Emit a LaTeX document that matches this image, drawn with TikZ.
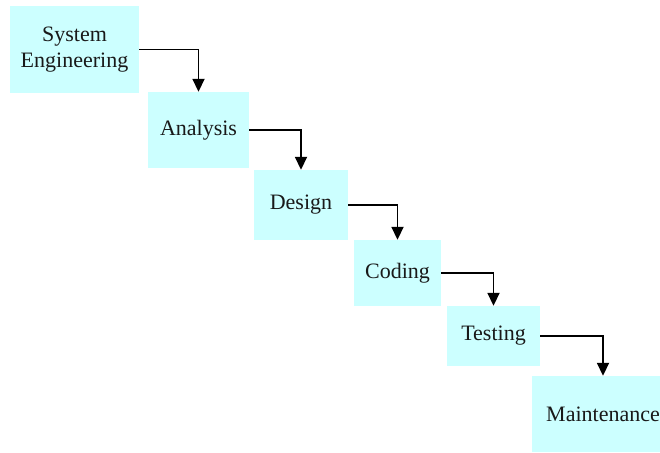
\documentclass[tikz,border=0pt]{standalone}
\usepackage{fontspec}
\setmainfont{Liberation Serif}
\usetikzlibrary{arrows.meta}
\definecolor{phasecyan}{RGB}{204,255,255}
\begin{document}
\begin{tikzpicture}[x=1pt,y=-1pt,
    phase/.style ={fill=phasecyan, inner sep=0pt, align=center, text=black!90, font=\fontsize{22}{26}\selectfont},
    flow/.style ={line width=1.8pt, -{Triangle[width=12pt,length=13pt]}}]
   \useasboundingbox (0,0) rectangle (660,452);
   \node[phase, minimum width=129pt, minimum height=87pt] (SE) at (74.5,49.5) {System\\Engineering};
   \node[phase, minimum width=101pt, minimum height=76pt] (AN) at (198.5,130) {Analysis};
   \node[phase, minimum width=94pt, minimum height=70pt] (DE) at (301,205) {Design};
   \node[phase, minimum width=87pt, minimum height=66pt] (CO) at (397.5,273) {Coding};
   \node[phase, minimum width=93pt, minimum height=60pt] (TE) at (493.5,336) {Testing};
   \node[phase, minimum width=142pt, minimum height=76pt] (MA) at (603,414) {Maintenance};
   \draw[flow] (SE) -| (AN);
   \draw[flow] (AN) -| (DE);
   \draw[flow] (DE) -| (CO);
   \draw[flow] (CO) -| (TE);
   \draw[flow] (TE) -| (MA);
 \end{tikzpicture}
\end{document}
